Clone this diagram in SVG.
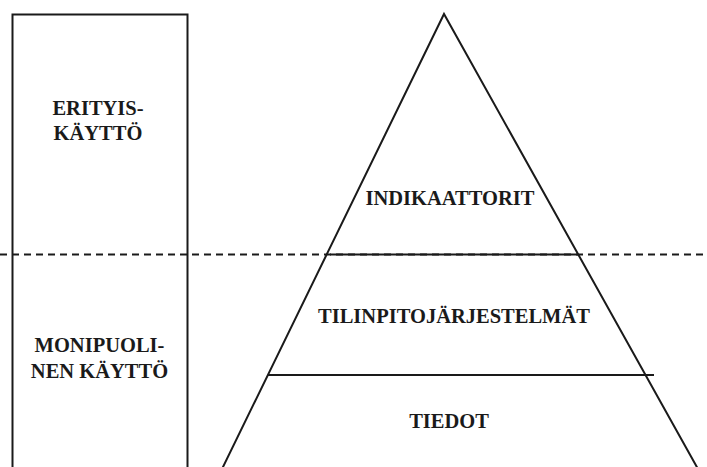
<svg xmlns="http://www.w3.org/2000/svg" width="707" height="467" viewBox="0 0 707 467">
<style>
.ln{stroke:#1a1a1a;stroke-width:2;fill:none}
.dash{stroke:#1a1a1a;stroke-width:1.8;stroke-dasharray:7 5;fill:none}
.t{font-family:"Liberation Serif","Times New Roman",serif;font-weight:bold;font-size:20.5px;fill:#1a1a1a;text-anchor:middle}
</style>
<rect width="707" height="467" fill="#fff"/>
<g id="left-box">
<path class="ln" d="M12.5,470 V14.5 H187.5 V470"/>
<text class="t" x="98" y="115">ERITYIS-</text>
<text class="t" x="98" y="140">KÄYTTÖ</text>
<text class="t" x="99.5" y="352">MONIPUOLI-</text>
<text class="t" x="99.5" y="378">NEN KÄYTTÖ</text>
</g>
<g id="connectors">
<line class="dash" x1="0" y1="254.5" x2="707" y2="254.5"/>
</g>
<g id="pyramid">
<path class="ln" d="M222,469 L444,14 L698,469"/>
<line class="ln" x1="330" y1="254.5" x2="578" y2="254.5"/>
<line class="ln" x1="268" y1="375" x2="654" y2="375"/>
</g>
<g id="indikaattorit"><text class="t" x="450" y="205">INDIKAATTORIT</text></g>
<g id="tilinpito"><text class="t" x="454" y="323">TILINPITOJÄRJESTELMÄT</text></g>
<g id="tiedot"><text class="t" x="449" y="428">TIEDOT</text></g>
</svg>
